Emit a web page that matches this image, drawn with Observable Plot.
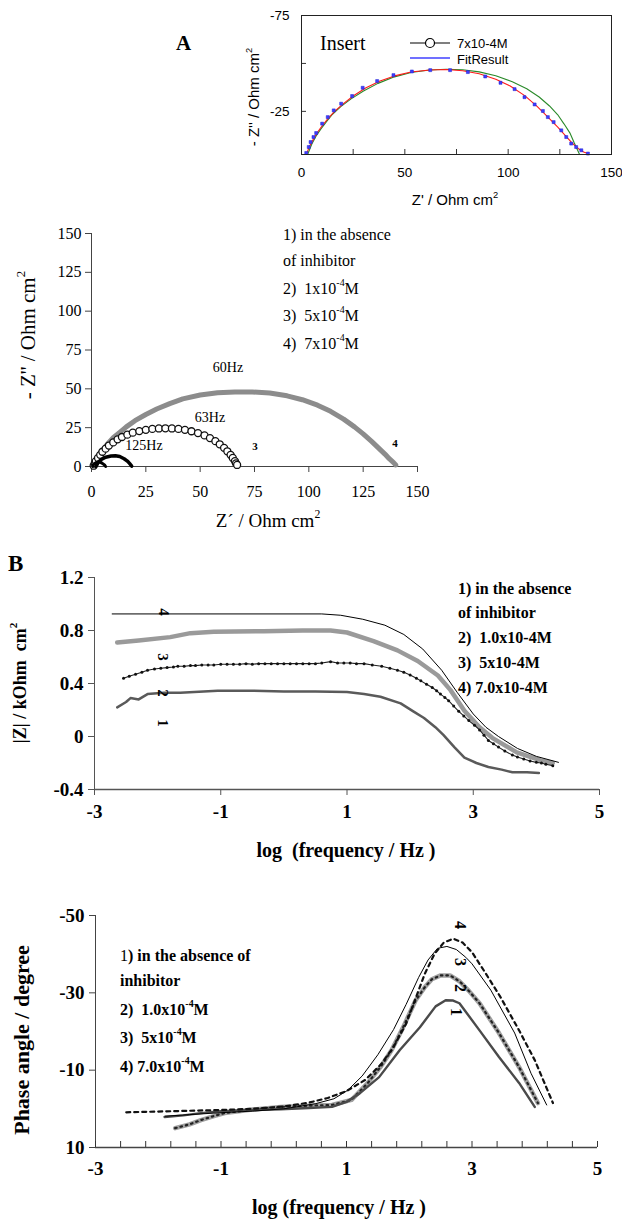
<!DOCTYPE html>
<html><head><meta charset="utf-8">
<script src="https://cdn.jsdelivr.net/npm/d3@7"></script>
<script src="https://cdn.jsdelivr.net/npm/@observablehq/plot@0.6"></script>
<style>
body{margin:0;background:#fff;}
#root{position:relative;width:622px;height:1222px;overflow:hidden;background:#fff;color:#000;}
.abs{position:absolute;white-space:nowrap;line-height:1;}
.abs sup{font-size:0.62em;position:relative;top:-0.15em;vertical-align:super;line-height:0;}
#root svg{position:absolute;overflow:visible;}
</style></head><body><div id="root"></div>
<script>
// ---------------- DATA ----------------
// Insert (7x10-4 M): measured points (blue), fit (red) and second fit (green)  [Z', Z'']
const insPts = [[2.3,-3.3],[3.5,-6.4],[4.4,-9.0],[5.8,-11.6],[7.1,-13.7],[10.0,-18.6],[12.7,-22.0],[15.6,-25.5],[19.2,-29.0],[24.5,-33.0],[29.6,-37.3],[36.6,-40.8],[44.5,-43.9],[53.4,-45.8],[62.3,-46.5],[71.9,-46.5],[80.5,-45.5],[88.9,-43.2],[96.3,-39.9],[103.1,-36.6],[107.9,-32.4],[112.8,-28.6],[116.8,-25.2],[119.2,-22.0],[122.0,-19.4],[125.7,-15.1],[128.1,-11.6],[130.5,-8.2],[132.9,-6.4],[135.4,-4.7],[138.6,-3.0]];
const insFit = [[2.5,-3],[4,-7],[6,-11],[8,-14.5],[10,-17.5],[13,-21.5],[16,-25],[20,-28.8],[25,-33],[31,-37.2],[38,-40.8],[45,-43.5],[53,-45.5],[62,-46.6],[70,-46.8],[78,-46.2],[86,-44.6],[94,-41.8],[101,-38.2],[108,-33.2],[114,-27.6],[119,-22.3],[124,-16.8],[128,-12],[131,-8.4],[134,-5.5],[136.5,-3.8],[138.5,-3]];
const insGreen = [[3,-2.6],[5,-8],[7,-12],[9.5,-16],[12,-19.5],[15,-23.5],[19,-27.5],[24,-31.5],[30,-35.6],[37,-39.6],[45,-43],[53,-45.3],[62,-46.6],[70,-47],[78,-46.7],[86,-45.6],[94,-43.6],[102,-40.5],[109,-36.8],[115,-32.5],[120,-27.8],[124,-23.2],[127,-18.5],[130,-13.5],[132,-8.5],[133.5,-5],[134.5,-2.6]];
const insXTicks = [0,50,100,150];
const insXMinor = [25,50,75,100,125];
const insYTicks = [-75,-25];
const insYMinor = [-75,-50,-25];

// Nyquist main panel  [Z', -Z'']
const nyq1 = [[0.5,0],[1,1.5],[2,2.5],[3,3],[4,2.8],[5,2],[6,1],[6.5,0]];
const nyq2 = [[2,0],[3,2.5],[4.5,4.5],[6.5,6],[9,6.8],[11,6.9],[13,6.4],[15,5],[16.5,3.5],[17.5,2],[18.5,0.3]];
const nyq3 = [[1,0.5],[1.5,2],[2,3.5],[3,5.5],[4,7.5],[5,9.5],[6.5,11.5],[8,13.5],[10,15.5],[12,17.5],[14,19],[16.5,20.5],[19,21.8],[22,22.8],[25,23.6],[28,24.2],[31,24.5],[34,24.6],[37,24.5],[40,24.2],[43,23.6],[46,22.7],[49,21.5],[52,20],[54.5,18.3],[57,16.3],[59,14.3],[61,12],[62.5,9.8],[64,7.5],[65,5.5],[66,3.5],[66.5,2],[67,1]];
const nyq4 = [[1.5,0.5],[2.5,4],[4,8],[6,12],[8,15.5],[10,18.5],[13,22],[16,25.5],[20,29.5],[25,33.5],[30,37],[36,40.5],[42,43.5],[50,46],[58,47.5],[66,48],[74,48],[82,47.3],[90,45.5],[97,43],[104,39.5],[110,35.5],[116,30.5],[121,25.5],[125,21],[129,16],[132,12],[135,8],[137,5],[139,2.5],[140,1]];
const nyqTicks = [0,25,50,75,100,125,150];

// Bode |Z| panel  [log f, |Z| kOhm cm2]
const zThin = [[-2.72,0.925],[0.6,0.925],[0.9,0.915],[1.25,0.885],[1.6,0.84],[1.9,0.77],[2.2,0.66],[2.5,0.50],[2.75,0.33],[3.0,0.17],[3.2,0.07],[3.4,0.0],[3.7,-0.09],[4.0,-0.15],[4.35,-0.195]];
const zGray = [[-2.64,0.71],[-2.3,0.725],[-1.8,0.75],[-1.48,0.78],[-1.11,0.79],[-0.32,0.795],[0.3,0.80],[0.74,0.80],[1.0,0.785],[1.42,0.72],[1.8,0.65],[2.12,0.57],[2.44,0.46],[2.64,0.35],[2.86,0.195],[3.1,0.07],[3.3,-0.01],[3.69,-0.12],[4.07,-0.18],[4.26,-0.2]];
const zDot = [[-2.54,0.44],[-2.45,0.455],[-2.35,0.47],[-2.25,0.485],[-2.16,0.50],[-2.05,0.51],[-1.95,0.515],[-1.85,0.52],[-1.75,0.525],[-1.68,0.53],[-1.58,0.53],[-1.48,0.535],[-1.4,0.535],[-1.3,0.54],[-1.2,0.54],[-1.11,0.54],[-1.0,0.545],[-0.9,0.545],[-0.8,0.545],[-0.7,0.545],[-0.6,0.55],[-0.5,0.545],[-0.4,0.55],[-0.3,0.55],[-0.2,0.55],[-0.1,0.55],[0.0,0.55],[0.1,0.55],[0.2,0.55],[0.3,0.55],[0.4,0.55],[0.5,0.55],[0.6,0.555],[0.74,0.565],[0.85,0.555],[0.95,0.555],[1.05,0.555],[1.15,0.55],[1.27,0.55],[1.4,0.54],[1.55,0.53],[1.68,0.515],[1.8,0.50],[1.9,0.485],[2.0,0.465],[2.1,0.44],[2.17,0.42],[2.26,0.395],[2.35,0.37],[2.42,0.345],[2.48,0.32],[2.55,0.295],[2.61,0.27],[2.69,0.23],[2.77,0.19],[2.85,0.155],[2.93,0.12],[3.02,0.085],[3.1,0.05],[3.17,0.01],[3.24,-0.03],[3.32,-0.055],[3.4,-0.08],[3.5,-0.11],[3.62,-0.14],[3.7,-0.155],[3.8,-0.17],[3.9,-0.185],[4.0,-0.195],[4.08,-0.2],[4.15,-0.21],[4.26,-0.22]];
const zLow = [[-2.64,0.22],[-2.5,0.26],[-2.43,0.29],[-2.3,0.28],[-2.16,0.32],[-1.9,0.33],[-1.64,0.33],[-1.05,0.345],[-0.5,0.345],[0.0,0.34],[0.5,0.34],[1.0,0.335],[1.27,0.32],[1.53,0.30],[1.85,0.25],[2.05,0.19],[2.22,0.14],[2.4,0.07],[2.53,0.01],[2.7,-0.08],[2.86,-0.16],[3.05,-0.2],[3.24,-0.23],[3.45,-0.25],[3.62,-0.27],[3.85,-0.27],[4.04,-0.275]];
const zYTicks = [1.2,0.8,0.4,0,-0.4];
const fTicks = [-3,-1,1,3,5];

// Phase panel  [log f, degree]
const phDash = [[-2.51,0.9],[-2.0,0.7],[-1.5,0.5],[-1.0,0.3],[-0.5,0],[0.0,-0.6],[0.4,-1.6],[0.7,-2.8],[1.0,-4.6],[1.3,-7.5],[1.55,-11.5],[1.75,-16],[1.95,-22],[2.1,-28.5],[2.25,-35],[2.4,-40],[2.55,-43],[2.7,-44],[2.85,-43],[3.0,-40.5],[3.2,-35.5],[3.45,-29],[3.75,-20.3],[4.0,-12.6],[4.29,-1.5]];
const phThin = [[-1.89,1.9],[-1.5,1.5],[-1.0,1.0],[-0.5,0.6],[0.0,0],[0.5,-1.3],[0.8,-2.6],[1.02,-4.8],[1.25,-8.5],[1.5,-14],[1.75,-20.5],[1.95,-27],[2.15,-34],[2.3,-38.5],[2.45,-41.5],[2.6,-42],[2.75,-41.2],[2.9,-39.2],[3.0,-37.5],[3.3,-30.7],[3.68,-19.6],[3.94,-9.2],[4.19,-1.0]];
const phGray = [[-1.73,5.0],[-1.5,4.0],[-1.32,2.9],[-1.1,1.8],[-0.94,1.1],[-0.5,0.2],[-0.05,-0.5],[0.4,-0.8],[0.77,-1.0],[1.08,-2.3],[1.34,-6.7],[1.55,-11],[1.72,-15.2],[1.9,-21],[2.1,-28],[2.25,-31.5],[2.36,-33.5],[2.5,-34.5],[2.65,-34.5],[2.8,-33],[2.95,-30.5],[3.12,-27.3],[3.43,-19.6],[3.75,-10.8],[4.05,-1.5]];
const phDark = [[-1.9,2.1],[-1.6,1.7],[-1.32,1.1],[-1.0,0.6],[-0.5,0.3],[-0.05,0.1],[0.4,-0.2],[0.77,-0.5],[1.0,-1.8],[1.21,-4.0],[1.52,-8.2],[1.85,-15.2],[2.17,-21.1],[2.42,-26.5],[2.58,-28.1],[2.7,-28],[2.8,-27.3],[3.12,-20.3],[3.43,-13.4],[3.75,-6.7],[4.0,-0.5]];
const phYTicks = [-50,-30,-10,10];
const phMinor = [-3,-2.6,-2.2,-1.8,-1.4,-1,-0.6,-0.2,0.2,0.6,1,1.4,1.8,2.2,2.6,3,3.4,3.8,4.2,4.6,5];

// ---------------- HELPERS ----------------
const SERIF = "'Liberation Serif','DejaVu Serif',serif";
const SANS = "'Liberation Sans',Arial,sans-serif";
const root = document.getElementById("root");
const X = d => d[0], Y = d => d[1];
function place(svg, left, top) {
  svg.style.left = left + "px"; svg.style.top = top + "px";
  root.appendChild(svg);
}
function label(html, x, y, o = {}) {
  const d = document.createElement("div");
  d.className = "abs";
  d.innerHTML = html;
  d.style.left = x + "px"; d.style.top = y + "px";
  d.style.fontSize = (o.size || 15) + "px";
  d.style.fontWeight = o.weight || "normal";
  d.style.fontFamily = o.family || SERIF;
  if (o.ws) d.style.wordSpacing = o.ws + "px";
  const tx = o.anchor === "middle" ? "-50%" : o.anchor === "end" ? "-100%" : "0%";
  d.style.transform = `translate(${tx},-50%)` + (o.rotate ? ` rotate(${o.rotate}deg)` : "");
  root.appendChild(d);
}
const fmt = d => String(d);
const blank = () => "";

// ---------------- INSERT ----------------
const insert = Plot.plot({
  width: 380, height: 215, marginLeft: 61, marginRight: 9, marginTop: 15, marginBottom: 61,
  x: {domain: [0, 150]}, y: {domain: [-2.5, -75]},
  style: {fontFamily: SANS, fontSize: "13.5px", color: "#000", background: "transparent"},
  marks: [
    Plot.axisX({ticks: insXTicks, tickSize: 0, tickPadding: 13, label: null, tickFormat: fmt}),
    Plot.axisX({ticks: insXMinor, tickSize: -5, tickFormat: blank, label: null, stroke: "#333"}),
    Plot.axisY({ticks: insYTicks, tickSize: 0, tickPadding: 12, label: null, tickFormat: fmt}),
    Plot.axisY({ticks: insYMinor, tickSize: -5, tickFormat: blank, label: null, stroke: "#333"}),
    Plot.line(insGreen, {x: X, y: Y, stroke: "#2a8a2a", strokeWidth: 1.1}),
    Plot.line(insFit, {x: X, y: Y, stroke: "#ff1a1a", strokeWidth: 1.1}),
    Plot.dot(insPts, {x: X, y: Y, symbol: "square", r: 1.7, fill: "#3d3dff", stroke: "#2020d0", strokeWidth: 0.5}),
    Plot.frame({stroke: "#222"})
  ]
});
place(insert, 240, 0);

// ---------------- NYQUIST ----------------
const nyq = Plot.plot({
  width: 440, height: 300, marginLeft: 91, marginRight: 23, marginTop: 13, marginBottom: 54,
  x: {domain: [0, 150]}, y: {domain: [0, 150]},
  style: {fontFamily: SERIF, fontSize: "16px", color: "#000", background: "transparent"},
  marks: [
    Plot.ruleX([0], {stroke: "#444"}),
    Plot.ruleY([0], {stroke: "#444"}),
    Plot.axisX({ticks: nyqTicks, tickSize: 6, tickPadding: 13, label: null, tickFormat: fmt, stroke: "#444"}),
    Plot.axisY({ticks: nyqTicks, tickSize: 6, tickPadding: 4, label: null, tickFormat: fmt, stroke: "#444"}),
    Plot.line(nyq4, {x: X, y: Y, stroke: "#8c8c8c", strokeWidth: 5}),
    Plot.dot(nyq3, {x: X, y: Y, r: 3.5, stroke: "#111", strokeWidth: 1.3, fill: "white"}),
    Plot.line(nyq2, {x: X, y: Y, stroke: "#000", strokeWidth: 3.5}),
    Plot.line(nyq1, {x: X, y: Y, stroke: "#000", strokeWidth: 3})
  ]
});
place(nyq, 0, 220);

// ---------------- BODE |Z| ----------------
const bodeZ = Plot.plot({
  width: 622, height: 280, marginLeft: 94, marginRight: 23, marginTop: 17, marginBottom: 51,
  x: {domain: [-3, 5]}, y: {domain: [-0.4, 1.2]},
  style: {fontFamily: SERIF, fontSize: "19px", fontWeight: "bold", color: "#000", background: "transparent"},
  marks: [
    Plot.ruleX([-3], {stroke: "#555"}),
    Plot.ruleY([-0.4], {stroke: "#555", strokeWidth: 1.5}),
    Plot.axisX({ticks: fTicks, tickSize: 6, tickPadding: 9, label: null, tickFormat: fmt, stroke: "#555"}),
    Plot.axisY({ticks: zYTicks, tickSize: 6, tickPadding: 5, label: null, tickFormat: fmt, stroke: "#555"}),
    Plot.line(zGray, {x: X, y: Y, stroke: "#9a9a9a", strokeWidth: 4.5}),
    Plot.line(zLow, {x: X, y: Y, stroke: "#5a5a5a", strokeWidth: 2.5}),
    Plot.line(zDot, {x: X, y: Y, stroke: "#222", strokeWidth: 1.1}),
    Plot.dot(zDot, {x: X, y: Y, r: 1.5, fill: "#111"}),
    Plot.line(zThin, {x: X, y: Y, stroke: "#000", strokeWidth: 1})
  ]
});
place(bodeZ, 0, 560);

// ---------------- PHASE ----------------
const phase = Plot.plot({
  width: 622, height: 322, marginLeft: 95, marginRight: 25, marginTop: 15, marginBottom: 75,
  x: {domain: [-3, 5]}, y: {domain: [10, -50]},
  style: {fontFamily: SERIF, fontSize: "19px", fontWeight: "bold", color: "#000", background: "transparent"},
  marks: [
    Plot.ruleX([-3], {stroke: "#444"}),
    Plot.ruleY([10], {stroke: "#444", strokeWidth: 1.5}),
    Plot.axisX({ticks: fTicks, tickSize: 0, tickPadding: 14, label: null, tickFormat: fmt}),
    Plot.axisX({ticks: phMinor, tickSize: -6, tickFormat: blank, label: null, stroke: "#333"}),
    Plot.axisY({ticks: phYTicks, tickSize: 6, tickPadding: 5, label: null, tickFormat: fmt, stroke: "#444"}),
    Plot.line(phGray, {x: X, y: Y, stroke: "#a0a0a0", strokeWidth: 4.5}),
    Plot.line(phGray, {x: X, y: Y, stroke: "#222", strokeWidth: 2.2, strokeDasharray: "1.5,4", strokeLinecap: "round"}),
    Plot.line(phDark, {x: X, y: Y, stroke: "#4a4a4a", strokeWidth: 2.4}),
    Plot.line(phThin, {x: X, y: Y, stroke: "#000", strokeWidth: 1}),
    Plot.line(phDash, {x: X, y: Y, stroke: "#111", strokeWidth: 2.2, strokeDasharray: "4,4"})
  ]
});
place(phase, 0, 900);

// ---------------- TEXT ----------------
// Panel A
label("A", 176, 43, {size: 21, weight: "bold"});
label("Insert", 320, 43, {size: 20});
label("- Z'' / Ohm cm<sup>2</sup>", 253, 97, {size: 15, family: SANS, anchor: "middle", rotate: -90});
label("Z' / Ohm cm<sup>2</sup>", 455, 199, {size: 15, family: SANS, anchor: "middle"});
// insert legend swatches
const lg = document.createElementNS("http://www.w3.org/2000/svg", "svg");
lg.setAttribute("width", "50"); lg.setAttribute("height", "30");
lg.innerHTML = '<line x1="2" y1="6" x2="42" y2="6" stroke="#000" stroke-width="1.2"/><circle cx="22" cy="6" r="4.5" fill="#fff" stroke="#000" stroke-width="1.2"/><line x1="2" y1="21" x2="42" y2="21" stroke="#7070ff" stroke-width="2"/>';
lg.style.left = "408px"; lg.style.top = "37px";
root.appendChild(lg);
label("7x10-4M", 457, 43, {size: 13, family: SANS});
label("FitResult", 457, 59, {size: 13, family: SANS});

// Nyquist texts
label("- Z'' / Ohm cm<sup>2</sup>", 28, 335, {size: 21, anchor: "middle", rotate: -90});
label("Z´ / Ohm cm<sup>2</sup>", 268, 520, {size: 19, anchor: "middle"});
label("1) in the absence", 283, 235, {size: 16});
label("of inhibitor", 283, 261, {size: 16});
label("2)&nbsp; 1x10<sup>-4</sup>M", 283, 289, {size: 16});
label("3)&nbsp; 5x10<sup>-4</sup>M", 283, 316, {size: 16});
label("4)&nbsp; 7x10<sup>-4</sup>M", 283, 344, {size: 16});
label("60Hz", 228, 368, {size: 14, anchor: "middle"});
label("63Hz", 210, 418, {size: 14, anchor: "middle"});
label("125Hz", 144, 446, {size: 14, anchor: "middle"});
label("3", 255, 446, {size: 11, weight: "bold", anchor: "middle"});
label("4", 395, 443, {size: 11, weight: "bold", anchor: "middle"});

// Panel B |Z|
label("B", 8, 563, {size: 23, weight: "bold"});
label("|Z| / kOhm&nbsp; cm<sup>2</sup>", 20, 683, {size: 18, weight: "bold", anchor: "middle", rotate: -90});
label("log&nbsp; (frequency / Hz )", 346, 850, {size: 20, weight: "bold", anchor: "middle"});
label("1) in the absence", 458, 589, {size: 16, weight: "bold"});
label("of inhibitor", 458, 613, {size: 16, weight: "bold"});
label("2)&nbsp; 1.0x10-4M", 458, 638, {size: 16, weight: "bold"});
label("3)&nbsp; 5x10-4M", 458, 663, {size: 16, weight: "bold"});
label("4) 7.0x10-4M", 458, 688, {size: 16, weight: "bold"});
label("4", 163, 612, {size: 15, weight: "bold", anchor: "middle", rotate: 90});
label("3", 162, 657, {size: 15, weight: "bold", anchor: "middle", rotate: 90});
label("2", 162, 693, {size: 15, weight: "bold", anchor: "middle", rotate: 90});
label("1", 162, 723, {size: 15, weight: "bold", anchor: "middle", rotate: 90});

// Phase
label("Phase angle / degree", 22, 1040, {size: 22, weight: "bold", anchor: "middle", rotate: -90});
label("log (frequency / Hz )", 339, 1207, {size: 20, weight: "bold", anchor: "middle"});
label("<span style='font-weight:normal'>1</span>) in the absence of", 120, 956, {size: 16, weight: "bold"});
label("inhibitor", 120, 981, {size: 16, weight: "bold"});
label("2)&nbsp; 1.0x10<sup>-4</sup>M", 120, 1010, {size: 16, weight: "bold"});
label("3)&nbsp; 5x10<sup>-4</sup>M", 120, 1038, {size: 16, weight: "bold"});
label("4) 7.0x10<sup>-4</sup>M", 120, 1067, {size: 16, weight: "bold"});
label("4", 460, 925, {size: 16, weight: "bold", anchor: "middle", rotate: 90});
label("3", 460, 962, {size: 16, weight: "bold", anchor: "middle", rotate: 90});
label("2", 460, 988, {size: 16, weight: "bold", anchor: "middle", rotate: 90});
label("1", 456, 1012, {size: 16, weight: "bold", anchor: "middle", rotate: 90});
</script></body></html>
